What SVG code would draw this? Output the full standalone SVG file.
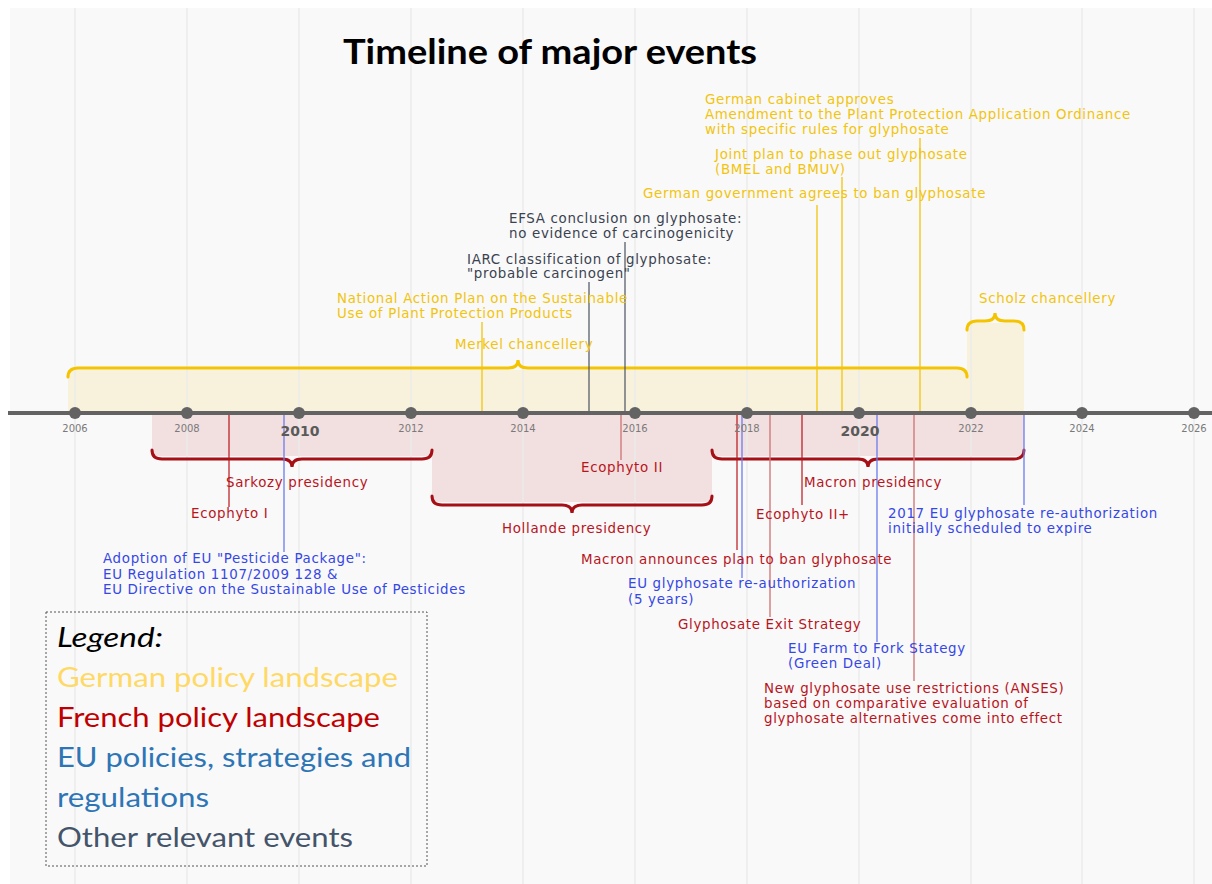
<svg xmlns="http://www.w3.org/2000/svg" width="1212" height="884" viewBox="0 0 1212 884">
  <style>
    .grid { stroke: #ebebeb; stroke-width: 1.5; }
    .ev { font-family: "DejaVu Sans", sans-serif; font-size: 13.4px; letter-spacing: 0.68px; }
    .de { fill: #f2c40c; }
    .fr { fill: #b8141c; }
    .eu { fill: #3547e6; }
    .ot { fill: #3a4250; }
    .yr { font-family: "DejaVu Sans", sans-serif; font-size: 10px; fill: #7a7a7a; text-anchor: middle; }
    .yrb { font-family: "DejaVu Sans", sans-serif; font-size: 14px; font-weight: bold; fill: #5a5a5a; text-anchor: middle; }
    .brace-de { fill: none; stroke: #f5c400; stroke-width: 3; stroke-linecap: round; }
    .brace-fr { fill: none; stroke: #a50f15; stroke-width: 3; stroke-linecap: round; }
    .band-de { fill: #f8f2dc; }
    .band-fr { fill: #f2dfdf; }
    .ln-de { stroke: #f2c40c; stroke-width: 1.3; }
    .ln-fr { stroke: #b8141c; stroke-width: 1.2; }
    .ln-frl { stroke: #d27a7a; stroke-width: 1.4; }
    .ln-eu { stroke: #6b7cf0; stroke-width: 1.3; }
    .ln-ot { stroke: #4a5260; stroke-width: 1.2; }
    .leg { font-family: Lato, "Liberation Sans", sans-serif; font-size: 27px; }
  </style>

  <!-- plot background -->
  <rect x="0" y="0" width="1212" height="884" fill="#ffffff"/>
  <rect x="10" y="8" width="1202" height="876" fill="#f9f9f9"/>

  <!-- period bands -->
  <g id="bands">
    <rect class="band-de" x="68" y="370" width="899" height="43"/>
    <rect class="band-de" x="967" y="323" width="57" height="90"/>
    <rect class="band-fr" x="152" y="413" width="280" height="43"/>
    <rect class="band-fr" x="432" y="413" width="280" height="89"/>
    <rect class="band-fr" x="712" y="413" width="312" height="43"/>
  </g>

  <!-- yearly grid -->
  <g id="grid">
    <line class="grid" x1="75" y1="8" x2="75" y2="884"/>
    <line class="grid" x1="187" y1="8" x2="187" y2="884"/>
    <line class="grid" x1="299" y1="8" x2="299" y2="884"/>
    <line class="grid" x1="411" y1="8" x2="411" y2="884"/>
    <line class="grid" x1="523" y1="8" x2="523" y2="884"/>
    <line class="grid" x1="635" y1="8" x2="635" y2="884"/>
    <line class="grid" x1="747" y1="8" x2="747" y2="884"/>
    <line class="grid" x1="859" y1="8" x2="859" y2="884"/>
    <line class="grid" x1="971" y1="8" x2="971" y2="884"/>
    <line class="grid" x1="1082" y1="8" x2="1082" y2="884"/>
    <line class="grid" x1="1194" y1="8" x2="1194" y2="884"/>
  </g>

  <text x="550" y="64" text-anchor="middle" font-family="Lato, 'Liberation Sans', sans-serif" font-size="35" font-weight="bold" fill="#000" textLength="414" lengthAdjust="spacingAndGlyphs">Timeline of major events</text>

  <!-- period braces -->
  <g id="braces">
    <path id="merkel-brace" class="brace-de" d="M68,377 Q68,368 78,368 L508,368 Q518,368 518,360 Q518,368 528,368 L957,368 Q967,368 967,377"/>
    <path id="scholz-brace" class="brace-de" d="M967,330 Q967,321 977,321 L985,321 Q995,321 995,313 Q995,321 1005,321 L1014,321 Q1024,321 1024,330"/>
    <path id="sarkozy-brace" class="brace-fr" d="M152,450 Q152,459 162,459 L282,459 Q292,459 292,467 Q292,459 302,459 L422,459 Q432,459 432,450"/>
    <path id="hollande-brace" class="brace-fr" d="M432,496 Q432,505 442,505 L562,505 Q572,505 572,513 Q572,505 582,505 L702,505 Q712,505 712,496"/>
    <path id="macron-brace" class="brace-fr" d="M712,450 Q712,459 722,459 L858,459 Q868,459 868,467 Q868,459 878,459 L1014,459 Q1024,459 1024,450"/>
  </g>

  <!-- event stems -->
  <g id="connectors">
    <line class="ln-de" x1="920" y1="138" x2="920" y2="413"/>
    <line class="ln-de" x1="842" y1="177" x2="842" y2="413"/>
    <line class="ln-de" x1="817" y1="205" x2="817" y2="413"/>
    <line class="ln-de" x1="482" y1="322" x2="482" y2="413"/>
    <line class="ln-ot" x1="589" y1="282" x2="589" y2="413"/>
    <line class="ln-ot" x1="625" y1="242" x2="625" y2="413"/>
    <line class="ln-fr" x1="229" y1="413" x2="229" y2="507"/>
    <line class="ln-eu" x1="284" y1="413" x2="284" y2="552"/>
    <line class="ln-frl" x1="621" y1="413" x2="621" y2="460"/>
    <line class="ln-fr" x1="737" y1="413" x2="737" y2="550"/>
    <line class="ln-eu" x1="742" y1="413" x2="742" y2="578"/>
    <line class="ln-frl" x1="770" y1="413" x2="770" y2="617"/>
    <line class="ln-fr" x1="802" y1="413" x2="802" y2="505"/>
    <line class="ln-eu" x1="877" y1="413" x2="877" y2="642"/>
    <line class="ln-frl" x1="914" y1="413" x2="914" y2="681"/>
    <line class="ln-eu" x1="1024" y1="413" x2="1024" y2="505"/>
  </g>

  <!-- time axis -->
  <g id="axis">
    <line x1="8" y1="413" x2="1212" y2="413" stroke="#636363" stroke-width="4"/>
    <g fill="#636363">
      <circle cx="75" cy="413" r="6"/>
      <circle cx="187" cy="413" r="6"/>
      <circle cx="299" cy="413" r="6"/>
      <circle cx="411" cy="413" r="6"/>
      <circle cx="523" cy="413" r="6"/>
      <circle cx="635" cy="413" r="6"/>
      <circle cx="747" cy="413" r="6"/>
      <circle cx="859" cy="413" r="6"/>
      <circle cx="971" cy="413" r="6"/>
      <circle cx="1082" cy="413" r="6"/>
      <circle cx="1194" cy="413" r="6"/>
    </g>
    <text class="yr" x="75" y="432">2006</text>
    <text class="yr" x="187" y="432">2008</text>
    <text class="yrb" x="300" y="436">2010</text>
    <text class="yr" x="411" y="432">2012</text>
    <text class="yr" x="523" y="432">2014</text>
    <text class="yr" x="635" y="432">2016</text>
    <text class="yr" x="747" y="432">2018</text>
    <text class="yrb" x="860" y="436">2020</text>
    <text class="yr" x="971" y="432">2022</text>
    <text class="yr" x="1082" y="432">2024</text>
    <text class="yr" x="1194" y="432">2026</text>
  </g>

  <!-- German events -->
  <g id="de-cabinet-ordinance"><text class="ev de" x="705" y="104">German cabinet approves</text><text class="ev de" x="705" y="119">Amendment to the Plant Protection Application Ordinance</text><text class="ev de" x="705" y="134">with specific rules for glyphosate</text></g>
  <g id="de-joint-plan"><text class="ev de" x="715" y="159">Joint plan to phase out glyphosate</text><text class="ev de" x="715" y="174">(BMEL and BMUV)</text></g>
  <g id="de-ban-agreement"><text class="ev de" x="643" y="198">German government agrees to ban glyphosate</text></g>
  <g id="de-nap"><text class="ev de" x="337" y="303">National Action Plan on the Sustainable</text><text class="ev de" x="337" y="318">Use of Plant Protection Products</text></g>
  <g id="de-merkel"><text class="ev de" x="455" y="349">Merkel chancellery</text></g>
  <g id="de-scholz"><text class="ev de" x="979" y="303">Scholz chancellery</text></g>

  <!-- other events -->
  <g id="efsa"><text class="ev ot" x="509" y="223">EFSA conclusion on glyphosate:</text><text class="ev ot" x="509" y="238">no evidence of carcinogenicity</text></g>
  <g id="iarc"><text class="ev ot" x="467" y="264">IARC classification of glyphosate:</text><text class="ev ot" x="467" y="278">"probable carcinogen"</text></g>

  <!-- French events -->
  <g id="fr-ecophyto2"><text class="ev fr" x="581" y="472">Ecophyto II</text></g>
  <g id="fr-sarkozy"><text class="ev fr" x="226" y="487">Sarkozy presidency</text></g>
  <g id="fr-macron"><text class="ev fr" x="804" y="487">Macron presidency</text></g>
  <g id="fr-ecophyto1"><text class="ev fr" x="191" y="518">Ecophyto I</text></g>
  <g id="fr-ecophyto2plus"><text class="ev fr" x="756" y="519">Ecophyto II+</text></g>
  <g id="fr-hollande"><text class="ev fr" x="502" y="533">Hollande presidency</text></g>
  <g id="fr-macron-ban"><text class="ev fr" x="581" y="564">Macron announces plan to ban glyphosate</text></g>
  <g id="fr-exit"><text class="ev fr" x="678" y="629">Glyphosate Exit Strategy</text></g>
  <g id="fr-anses"><text class="ev fr" x="764" y="693">New glyphosate use restrictions (ANSES)</text><text class="ev fr" x="764" y="708">based on comparative evaluation of</text><text class="ev fr" x="764" y="723">glyphosate alternatives come into effect</text></g>

  <!-- EU events -->
  <g id="eu-expiry"><text class="ev eu" x="888" y="518">2017 EU glyphosate re-authorization</text><text class="ev eu" x="888" y="533">initially scheduled to expire</text></g>
  <g id="eu-package"><text class="ev eu" x="103" y="563">Adoption of EU "Pesticide Package":</text><text class="ev eu" x="103" y="579">EU Regulation 1107/2009 128 &amp;</text><text class="ev eu" x="103" y="594">EU Directive on the Sustainable Use of Pesticides</text></g>
  <g id="eu-reauth"><text class="ev eu" x="628" y="588">EU glyphosate re-authorization</text><text class="ev eu" x="628" y="604">(5 years)</text></g>
  <g id="eu-f2f"><text class="ev eu" x="788" y="653">EU Farm to Fork Stategy</text><text class="ev eu" x="788" y="668">(Green Deal)</text></g>

  <!-- legend -->
  <g id="legend">
    <rect x="46" y="612" width="381" height="254" fill="none" stroke="#555" stroke-width="1" stroke-dasharray="2,2"/>
    <text class="leg" x="57" y="647" font-style="italic" fill="#000" textLength="106" lengthAdjust="spacingAndGlyphs">Legend:</text>
    <text class="leg" x="57" y="687" fill="#ffd966" textLength="341" lengthAdjust="spacingAndGlyphs">German policy landscape</text>
    <text class="leg" x="57" y="727" fill="#c00000" textLength="323" lengthAdjust="spacingAndGlyphs">French policy landscape</text>
    <text class="leg" x="57" y="767" fill="#2e75b6" textLength="354" lengthAdjust="spacingAndGlyphs">EU policies, strategies and</text>
    <text class="leg" x="57" y="807" fill="#2e75b6" textLength="152" lengthAdjust="spacingAndGlyphs">regulations</text>
    <text class="leg" x="57" y="847" fill="#44546a" textLength="296" lengthAdjust="spacingAndGlyphs">Other relevant events</text>
  </g>
</svg>
